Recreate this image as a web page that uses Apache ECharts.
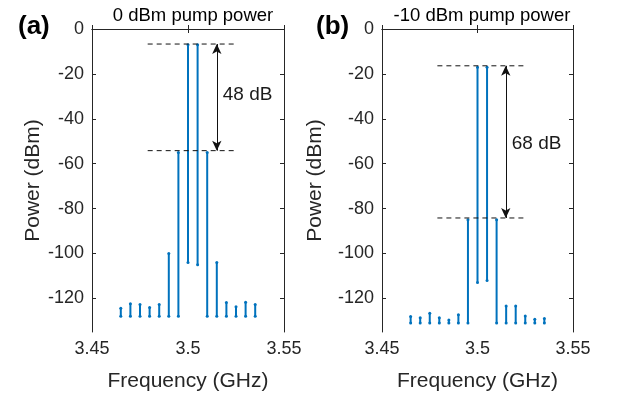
<!DOCTYPE html>
<html>
<head>
<meta charset="utf-8">
<script src="https://cdn.jsdelivr.net/npm/echarts@6/dist/echarts.min.js"></script>
<style>
  html, body { margin: 0; background: #fff; }
  #chart { width: 618px; height: 396px; }
</style>
</head>
<body>
<div id="chart"></div>
<script>
// tone frequencies (GHz), same grid in both panels
const freqs = [3.465, 3.47, 3.475, 3.48, 3.485, 3.49, 3.495, 3.5, 3.505, 3.51, 3.515, 3.52, 3.525, 3.53, 3.535];
// (a) 0 dBm pump: top and bottom of each tone line (dBm)
const peaksA = [-124.4, -122.4, -122.8, -124.1, -122.8, -100, -55, -7, -7, -55, -104, -121.9, -123.7, -121.8, -122.8];
const floorsA = [-128, -128, -128, -128, -128, -128, -128, -104, -105, -128, -128, -128, -128, -128, -128];
// (b) -10 dBm pump
const peaksB = [-128.1, -128.7, -126.7, -128.6, -129.6, -127.3, -85, -17, -17, -85, -123.4, -123.4, -127.9, -129.3, -129];
const floorsB = [-131, -131, -131, -131, -131, -131, -131, -113, -112, -131, -131, -131, -131, -131, -131];

const xTicks = [3.45, 3.5, 3.55];
const yTicks = [-120, -100, -80, -60, -40, -20, 0];

// annotations: dashed level lines, arrow and gap label
const dashSpanA = [3.479, 3.5255];
const dashLevelsA = [-6.7, -54.2];
const arrowXA = 3.515;
const gapLabelA = '48 dB';
const gapLabelYA = -29.5;

const dashSpanB = [3.479, 3.526];
const dashLevelsB = [-16.4, -84.2];
const arrowXB = 3.5148;
const gapLabelB = '68 dB';
const gapLabelYB = -51;

const blue = '#0072BD';
const ink = '#262626';
const font = 'Liberation Sans, Arial, sans-serif';

var chartDom = document.getElementById('chart');
var myChart = echarts.init(chartDom, null, { renderer: 'canvas' });

function bottomX(grid) {
  return {
    type: 'value', gridIndex: grid, position: 'bottom', min: 3.45, max: 3.55,
    name: 'Frequency (GHz)', nameLocation: 'middle', nameGap: 39,
    nameTextStyle: { fontFamily: font, fontSize: 21, color: ink },
    axisLine: { show: true, lineStyle: { color: ink, width: 1 } },
    axisTick: { show: true, inside: true, length: 4, customValues: xTicks, lineStyle: { color: ink } },
    axisLabel: { show: true, customValues: xTicks, margin: 8, fontFamily: font, fontSize: 18, color: ink },
    splitLine: { show: false }
  };
}
function topX(grid) {
  return {
    type: 'value', gridIndex: grid, position: 'top', min: 3.45, max: 3.55,
    axisLine: { show: true, lineStyle: { color: ink, width: 1 } },
    axisTick: { show: true, inside: true, length: 4, customValues: xTicks, lineStyle: { color: ink } },
    axisLabel: { show: false },
    splitLine: { show: false }
  };
}
function leftY(grid, gap) {
  return {
    type: 'value', gridIndex: grid, position: 'left', min: -135, max: 0,
    name: 'Power (dBm)', nameLocation: 'middle', nameGap: gap,
    nameTextStyle: { fontFamily: font, fontSize: 21, color: ink },
    axisLine: { show: true, lineStyle: { color: ink, width: 1 } },
    axisTick: { show: true, inside: true, length: 4, customValues: yTicks, lineStyle: { color: ink } },
    axisLabel: { show: true, customValues: yTicks, margin: 8, fontFamily: font, fontSize: 18, color: ink },
    splitLine: { show: false }
  };
}
function rightY(grid) {
  return {
    type: 'value', gridIndex: grid, position: 'right', min: -135, max: 0,
    axisLine: { show: true, lineStyle: { color: ink, width: 1 } },
    axisTick: { show: true, inside: true, length: 4, customValues: yTicks, lineStyle: { color: ink } },
    axisLabel: { show: false },
    splitLine: { show: false }
  };
}

function toneSeries(axis, peaks, floors) {
  return freqs.map(function (f, i) {
    return {
      type: 'line', xAxisIndex: axis, yAxisIndex: axis,
      data: [[f, floors[i]], [f, peaks[i]]],
      symbol: 'circle', symbolSize: 3, showSymbol: true,
      itemStyle: { color: blue },
      lineStyle: { color: blue, width: 2 },
      silent: true, z: 3
    };
  });
}

function annotationSeries(axis, span, levels, arrowX, label, labelY) {
  var out = levels.map(function (lv) {
    return {
      type: 'line', xAxisIndex: axis, yAxisIndex: axis,
      data: [[span[0], lv], [span[1], lv]],
      symbol: 'none',
      lineStyle: { color: '#111', width: 1, type: [5, 4], opacity: 1 },
      silent: true, z: 4
    };
  });
  out[0].markLine = {
    silent: true,
    symbol: ['arrow', 'arrow'],
    symbolSize: [7, 10],
    label: { show: false },
    lineStyle: { type: 'solid', color: '#111', width: 1, opacity: 1 },
    data: [[{ coord: [arrowX, levels[0]] }, { coord: [arrowX, levels[1]] }]]
  };
  out.push({
    type: 'scatter', xAxisIndex: axis, yAxisIndex: axis,
    data: [[arrowX, labelY]], symbolSize: 0, silent: true, z: 5,
    label: { show: true, position: 'right', distance: 6, formatter: label, fontFamily: font, fontSize: 19, color: '#1a1a1a', opacity: 1 }
  });
  return out;
}

var option = {
  animation: false,
  backgroundColor: '#fff',
  title: [
    { text: '0 dBm pump power', left: 188, top: 1, textAlign: 'center', textStyle: { fontFamily: font, fontSize: 18.5, fontWeight: 'normal', color: '#000' } },
    { text: '-10 dBm pump power', left: 477, top: 1, textAlign: 'center', textStyle: { fontFamily: font, fontSize: 18.5, fontWeight: 'normal', color: '#000' } },
    { text: '(a)', left: 13, top: 9, textStyle: { fontFamily: font, fontSize: 26, fontWeight: 'bold', color: '#000' } },
    { text: '(b)', left: 311, top: 9, textStyle: { fontFamily: font, fontSize: 26, fontWeight: 'bold', color: '#000' } }
  ],
  grid: [
    { left: 92, top: 29, width: 192, height: 303, outerBoundsMode: 'none', containLabel: false },
    { left: 382, top: 29, width: 191, height: 303, outerBoundsMode: 'none', containLabel: false }
  ],
  // indices 0/1: bottom-left axes of panels (a)/(b); 2/3: top-right box axes
  xAxis: [bottomX(0), bottomX(1), topX(0), topX(1)],
  yAxis: [leftY(0, 47), leftY(1, 56), rightY(0), rightY(1)],
  series: []
};

option.series = [].concat(
  toneSeries(0, peaksA, floorsA),
  toneSeries(1, peaksB, floorsB),
  annotationSeries(0, dashSpanA, dashLevelsA, arrowXA, gapLabelA, gapLabelYA),
  annotationSeries(1, dashSpanB, dashLevelsB, arrowXB, gapLabelB, gapLabelYB)
);

option && myChart.setOption(option);
</script>
</body>
</html>
